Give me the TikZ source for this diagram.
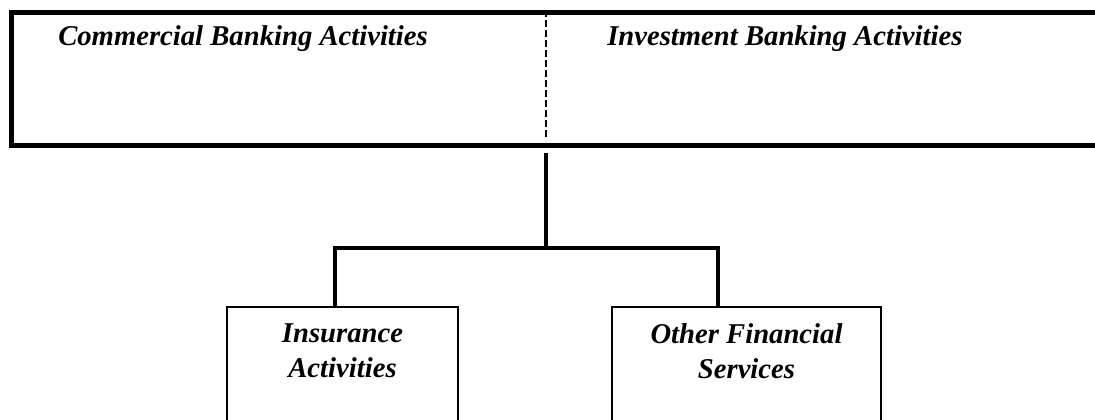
\documentclass[tikz,border=0pt]{standalone}
\usepackage{fontspec}
\setmainfont{Liberation Serif}
\usepackage{tikz}
\usetikzlibrary{positioning}

\begin{document}
\begin{tikzpicture}[x=0.75pt,y=-0.75pt,
    label/.style={font=\fontsize{21.5}{26}\selectfont\bfseries\itshape,inner sep=0pt},
    unit/.style={draw,line width=1.5pt,minimum width=#1,minimum height=105pt,anchor=north,inner sep=0pt},
    link/.style={line width=3pt}]
  \useasboundingbox (0,0) rectangle (1095,419);
  \node [draw,line width=3.75pt,minimum width=818pt,minimum height=100pt,anchor=north west,inner sep=0pt] (banking) at (9,10) {};
  \node [label,anchor=base west] (commercial) at (58,45) {Commercial Banking Activities};
  \node [label,anchor=base west] (investment) at (607,45) {Investment Banking Activities};
  \coordinate (top) at (546,10);
  \coordinate (bottom) at (546,140);
  \draw [dashed,line width=1.1pt,dash pattern=on 5pt off 2.5pt] (top) -- (bottom);
  \node [unit=173pt] (insurance) at (342.5,306) {};
  \node [unit=202pt] (other) at (746.5,306) {};
  \node [label,align=center,below=13pt of insurance.north] (insurancetext) {Insurance\\Activities};
  \node [label,align=center,below=13pt of other.north] (othertext) {Other Financial\\Services};
  \coordinate (stem) at (546,153);
  \coordinate (branch) at (546,248);
  \draw [link] (stem) -- (branch);
  \draw [link] ([xshift=-5.6pt]insurance.north) |- (branch) -| ([xshift=-21.4pt]other.north);
\end{tikzpicture}
\end{document}
